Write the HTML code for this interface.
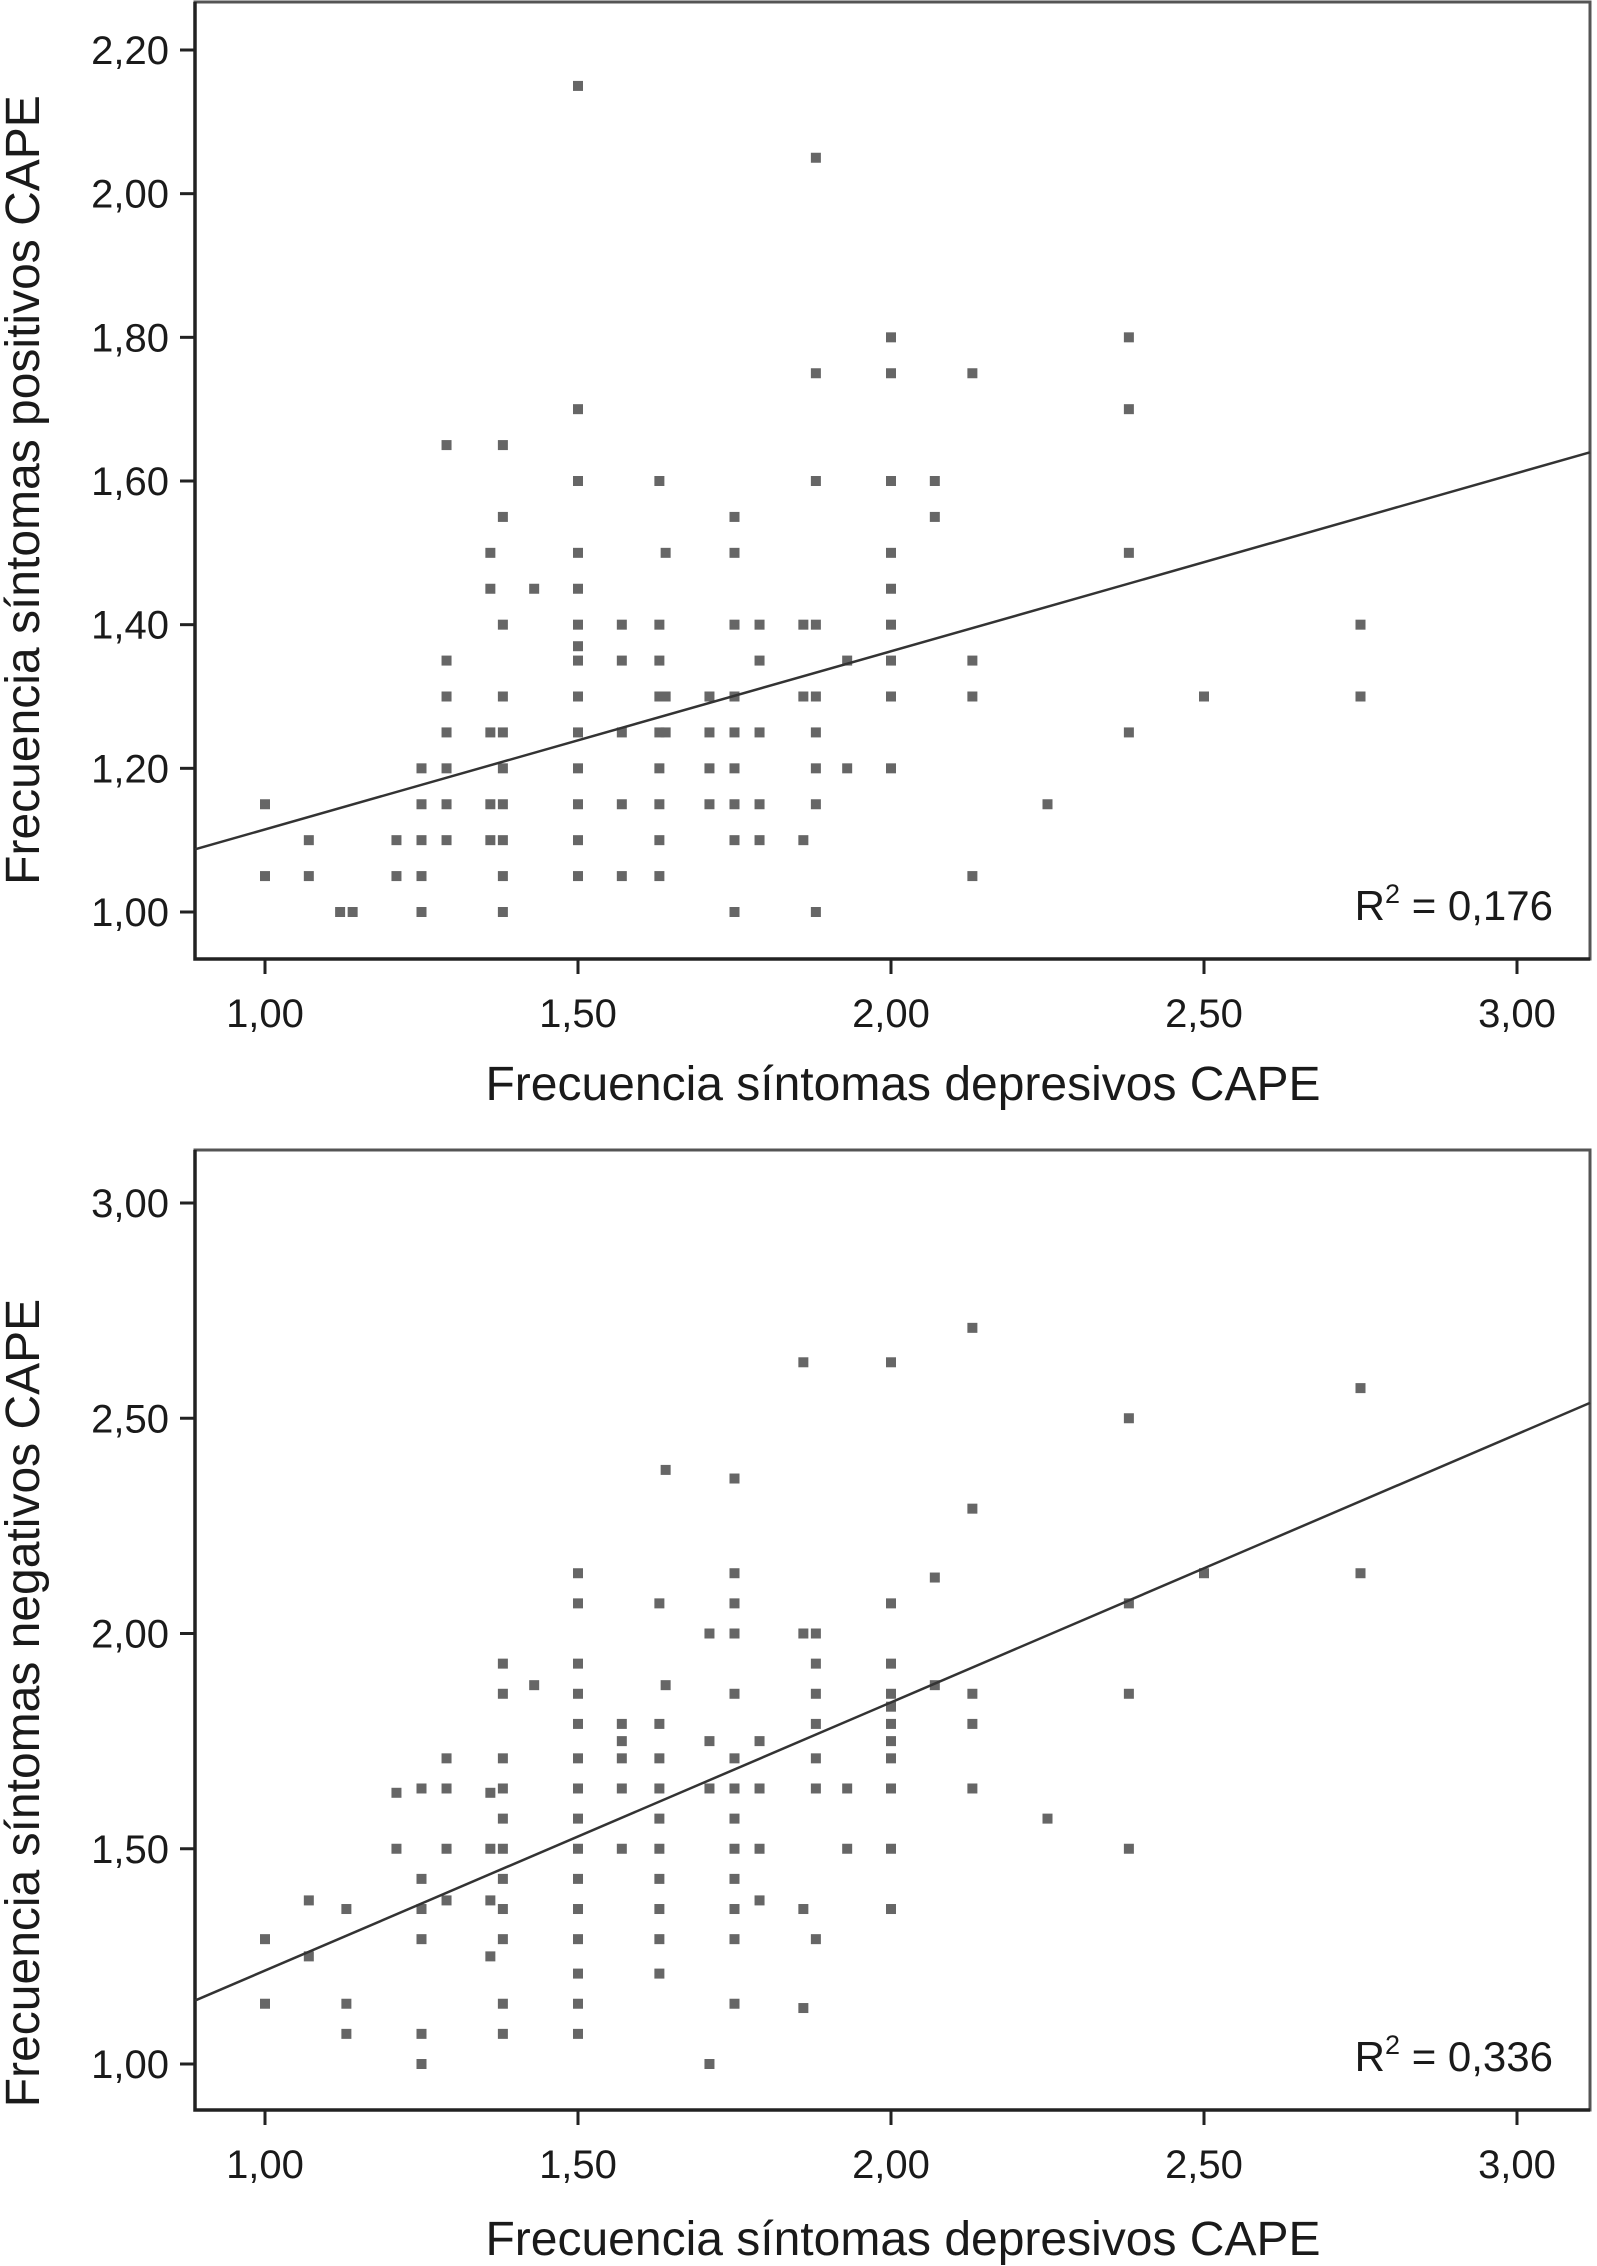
<!DOCTYPE html>
<html><head><meta charset="utf-8"><style>
html,body{margin:0;padding:0;background:#fff;}
svg{display:block;font-family:"Liberation Sans",Arial,sans-serif;}
</style></head><body>
<svg id="chart" width="1597" height="2266" viewBox="0 0 1597 2266"></svg>
<script>
const xTicks = [1.00, 1.50, 2.00, 2.50, 3.00];
const xTickLabels = ["1,00","1,50","2,00","2,50","3,00"];
const yTicks1 = [1.00,1.20,1.40,1.60,1.80,2.00,2.20];
const yTickLabels1 = ["1,00","1,20","1,40","1,60","1,80","2,00","2,20"];
const yTicks2 = [1.00,1.50,2.00,2.50,3.00];
const yTickLabels2 = ["1,00","1,50","2,00","2,50","3,00"];
const fit1 = [0.867, 0.248];
const fit2 = [0.594, 0.623];
const r2Labels = ["0,176","0,336"];
const pos = [
[1.00,[1.15,1.05]],[1.07,[1.10,1.05]],[1.12,[1.00]],[1.14,[1.00]],[1.21,[1.10,1.05]],
[1.25,[1.20,1.15,1.10,1.05,1.00]],[1.29,[1.65,1.35,1.30,1.25,1.20,1.15,1.10]],
[1.36,[1.50,1.45,1.25,1.15,1.10]],[1.38,[1.65,1.55,1.40,1.30,1.25,1.20,1.15,1.10,1.05,1.00]],
[1.43,[1.45]],[1.50,[2.15,1.70,1.60,1.50,1.45,1.40,1.37,1.35,1.30,1.25,1.20,1.15,1.10,1.05]],
[1.57,[1.40,1.35,1.25,1.15,1.05]],[1.63,[1.60,1.40,1.35,1.30,1.25,1.20,1.15,1.10,1.05]],
[1.64,[1.50,1.30,1.25]],[1.71,[1.30,1.25,1.20,1.15]],
[1.75,[1.55,1.50,1.40,1.30,1.25,1.20,1.15,1.10,1.00]],[1.79,[1.40,1.35,1.25,1.15,1.10]],
[1.86,[1.40,1.30,1.10]],[1.88,[2.05,1.75,1.60,1.40,1.30,1.25,1.20,1.15,1.00]],
[1.93,[1.35,1.20]],[2.00,[1.80,1.75,1.60,1.50,1.45,1.40,1.35,1.30,1.20]],
[2.07,[1.60,1.55]],[2.13,[1.75,1.35,1.30,1.05]],[2.25,[1.15]],
[2.38,[1.80,1.70,1.50,1.25]],[2.50,[1.30]],[2.75,[1.40,1.30]]
];
const neg = [
[1.00,[1.29,1.14]],[1.07,[1.38,1.25]],[1.13,[1.36,1.14,1.07]],[1.21,[1.63,1.50]],
[1.25,[1.64,1.43,1.36,1.29,1.07,1.00]],[1.29,[1.71,1.64,1.50,1.38]],
[1.36,[1.63,1.50,1.38,1.25]],
[1.38,[1.93,1.86,1.71,1.64,1.57,1.50,1.43,1.36,1.29,1.14,1.07]],[1.43,[1.88]],
[1.50,[2.14,2.07,1.93,1.86,1.79,1.71,1.64,1.57,1.50,1.43,1.36,1.29,1.21,1.14,1.07]],
[1.57,[1.79,1.75,1.71,1.64,1.50]],
[1.63,[2.07,1.79,1.71,1.64,1.57,1.50,1.43,1.36,1.29,1.21]],[1.64,[2.38,1.88]],
[1.71,[2.00,1.75,1.64,1.00]],
[1.75,[2.36,2.14,2.07,2.00,1.86,1.71,1.64,1.57,1.50,1.43,1.36,1.29,1.14]],
[1.79,[1.75,1.64,1.50,1.38]],[1.86,[2.63,2.00,1.36,1.13]],
[1.88,[2.00,1.93,1.86,1.79,1.71,1.64,1.29]],[1.93,[1.64,1.50]],
[2.00,[2.63,2.07,1.93,1.86,1.83,1.79,1.75,1.71,1.64,1.50,1.36]],
[2.07,[2.13,1.88]],[2.13,[2.71,2.29,1.86,1.79,1.64]],[2.25,[1.57]],
[2.38,[2.50,2.07,1.86,1.50]],[2.50,[2.14]],[2.75,[2.57,2.14]]
];
const NS="http://www.w3.org/2000/svg";
const svg=document.getElementById('chart');
function el(t,a,p){const e=document.createElementNS(NS,t);for(const k in a)e.setAttribute(k,a[k]);(p||svg).appendChild(e);return e;}
const X0=195,X1=1590;
function sx(v){return 265+(v-1)*626;}
function build(cfg){
  const g=el('g',{});
  
  
  const sy=v=>cfg.y1px+(v-1)*(cfg.ytop-cfg.y1px)/(cfg.ymax-1);
  const fr=el('rect',{x:X0,y:cfg.top,width:X1-X0,height:cfg.bot-cfg.top,fill:'none',stroke:'#555','stroke-width':3},g);
  
  
  const ax=el('path',{d:`M${X0},${cfg.top} V${cfg.bot} H${X1}`,fill:'none',stroke:'#222','stroke-width':3.5},g);
  
  
  cfg.yt.forEach((v,i)=>{
    const y=sy(v);
    const t=el('line',{x1:X0-15,x2:X0,y1:y,y2:y,stroke:'#222','stroke-width':3},g);
    
    
    const l=el('text',{x:169,y:y+14,'text-anchor':'end','font-size':40,fill:'#1a1a1a'},g);
    l.textContent=cfg.yl[i];
    
    
  });
  xTicks.forEach((v,i)=>{
    const x=sx(v);
    const t=el('line',{x1:x,x2:x,y1:cfg.bot,y2:cfg.bot+15,stroke:'#222','stroke-width':3},g);
    
    
    const l=el('text',{x:x,y:cfg.bot+68,'text-anchor':'middle','font-size':40,fill:'#1a1a1a'},g);
    l.textContent=xTickLabels[i];
    
    
  });
  cfg.data.forEach(([xv,ys])=>ys.forEach(yv=>{
    const m=el('rect',{x:sx(xv)-5,y:sy(yv)-5,width:10,height:10,fill:'#666'},g);
    
    
  }));
  const xa=(X0-265)/626+1, xb=(X1-265)/626+1;
  const ln=el('line',{x1:X0,y1:sy(cfg.fit[0]+cfg.fit[1]*xa),x2:X1,y2:sy(cfg.fit[0]+cfg.fit[1]*xb),stroke:'#333','stroke-width':2.5},g);
  
  
  const r=el('text',{x:1553,y:cfg.bot-39,'text-anchor':'end','font-size':42,fill:'#1a1a1a'},g);
  r.innerHTML='R<tspan dy="-17" font-size="27">2</tspan><tspan dy="17"> = '+cfg.r2+'</tspan>';
  
  
  const xt=el('text',{x:903,y:cfg.xtitleY,'text-anchor':'middle','font-size':48,fill:'#1a1a1a'},g);
  xt.textContent='Frecuencia síntomas depresivos CAPE';
  
  
  const yt=el('text',{x:0,y:0,'text-anchor':'middle','font-size':48,fill:'#1a1a1a',transform:`translate(39,${cfg.ytitleC}) rotate(-90)`},g);
  yt.textContent=cfg.ytitle;
  
  
}
build({name:'positive-symptoms-plot',top:2,bot:959,y1px:912,ytop:50,ymax:2.2,yt:yTicks1,yl:yTickLabels1,data:pos,fit:fit1,r2:r2Labels[0],xtitleY:1100,ytitle:'Frecuencia síntomas positivos CAPE',ytitleC:490});
build({name:'negative-symptoms-plot',top:1150,bot:2110,y1px:2064,ytop:1203,ymax:3.0,yt:yTicks2,yl:yTickLabels2,data:neg,fit:fit2,r2:r2Labels[1],xtitleY:2255,ytitle:'Frecuencia síntomas negativos CAPE',ytitleC:1703});
</script>
</body></html>
